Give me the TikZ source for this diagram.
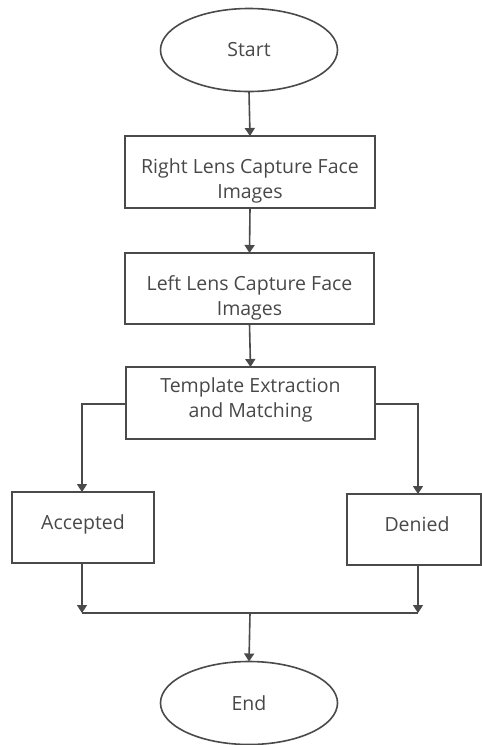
\documentclass[tikz,border=0pt]{standalone}
\usepackage{fontspec}
\setmainfont{Open Sans}
\usetikzlibrary{shapes.geometric,arrows.meta}
\definecolor{linegray}{HTML}{4A4A4A}
\definecolor{textgray}{HTML}{484848}
\tikzset{
  every node/.style={inner sep=0pt, outer sep=0pt},
  terminal/.style={draw=linegray, line width=1.6pt, ellipse, minimum width=177pt, minimum height=83pt, text=textgray, font=\fontsize{19.5}{25}\selectfont},
  procbox/.style={draw=linegray, line width=1.6pt, rectangle},
  lbl/.style={text=textgray, font=\fontsize{19.5}{25}\selectfont, align=center},
  conn/.style={draw=linegray, line width=1.6pt},
  arr/.style={conn, -{Triangle[width=10pt,length=8pt]}},
}
\begin{document}
\begin{tikzpicture}[x=1pt,y=-1pt]
\useasboundingbox (0,0) rectangle (482,745);
% terminals
\node[terminal] (start) at (249,50) {Start};
\node[terminal] (end) at (249,703) {End};
% boxes
\node[procbox, minimum width=250pt, minimum height=72pt] (b1) at (250,172) {};
\node[lbl] (b1t) at (250,180.5) {Right Lens Capture Face\\Images};
\node[procbox, minimum width=249pt, minimum height=71pt] (b2) at (249.5,288.5) {};
\node[lbl] (b2t) at (249.5,298) {Left Lens Capture Face\\Images};
\node[procbox, minimum width=249pt, minimum height=72pt] (b3) at (250.5,403) {};
\node[lbl] (b3t) at (250.5,399.5) {Template Extraction\\and Matching};
\node[procbox, minimum width=142pt, minimum height=71pt] (acc) at (83,527.5) {};
\node[lbl] (acct) at (83,524) {Accepted};
\node[procbox, minimum width=134pt, minimum height=71pt] (den) at (414,529.5) {};
\node[lbl] (dent) at (417,524) {Denied};
% merge points
\coordinate (mL) at (82,613);
\coordinate (mR) at (418,613);
\coordinate (mC) at (250,613);
% connectors
\draw[arr] (start.south) -- (b1.north);
\draw[arr] (b1.south) -- (b2.north);
\draw[arr] (b2.south) -- (b3.north);
\draw[arr] (b3.west |- 0,404) -| (acc.north -| 82,0);
\draw[arr] (b3.east |- 0,404) -| (den.north -| 418,0);
\draw[arr] (acc.south -| mL) -- (mL);
\draw[arr] (den.south -| mR) -- (mR);
\draw[conn] (mL) -- (mR);
\draw[arr] (mC) -- (end.north);
\end{tikzpicture}
\end{document}
